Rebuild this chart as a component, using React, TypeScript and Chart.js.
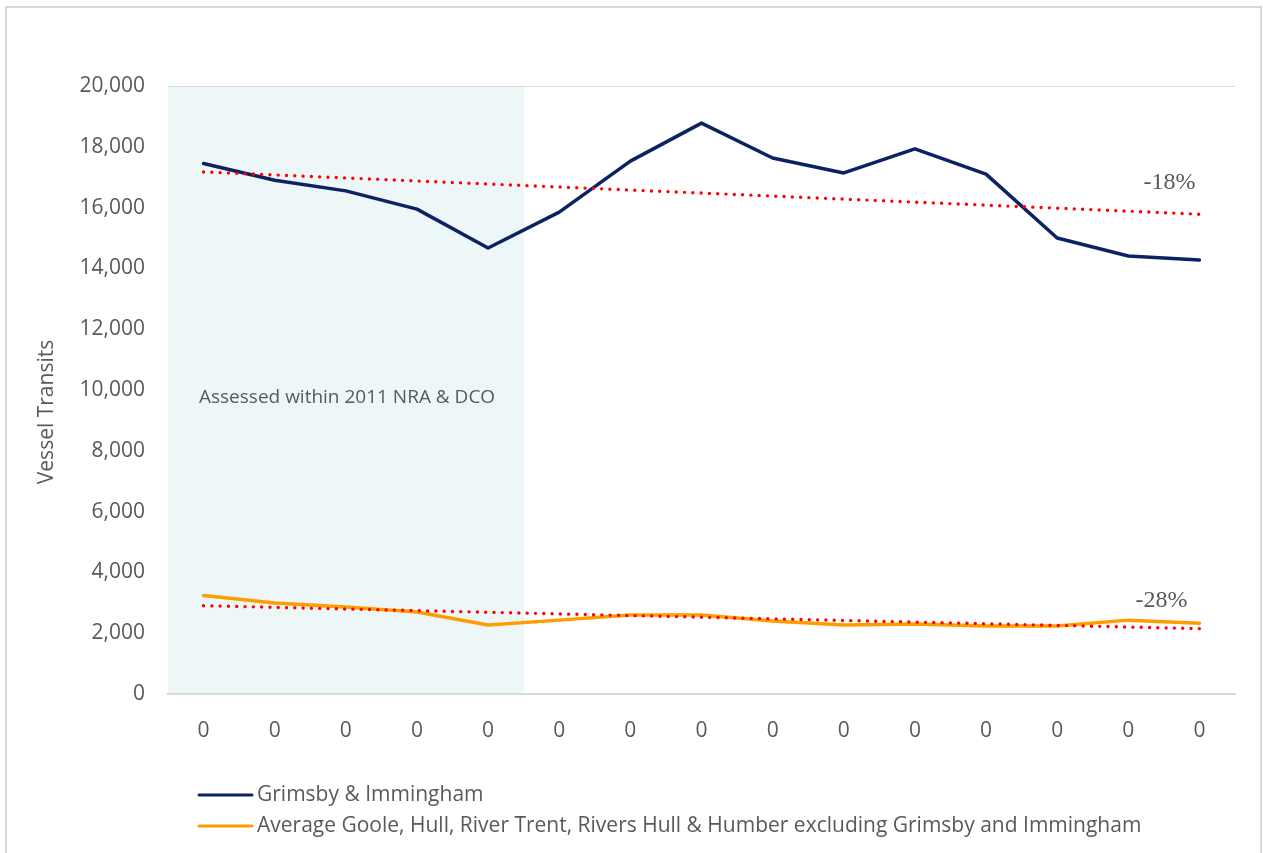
import React, { useEffect, useRef } from "react";
import { Chart, registerables } from "chart.js";

Chart.register(...registerables);

// Category labels along the x axis
const categories = ["0", "0", "0", "0", "0", "0", "0", "0", "0", "0", "0", "0", "0", "0", "0"];

// Annual vessel transits
const grimsbyImmingham = [17450, 16900, 16550, 15950, 14670, 15850, 17530, 18780, 17630, 17140, 17930, 17100, 15000, 14410, 14280];
const averageOtherPorts = [3240, 2990, 2860, 2700, 2270, 2430, 2600, 2600, 2400, 2270, 2300, 2240, 2240, 2430, 2330];

const seriesNames = [
  "Grimsby & Immingham",
  "Average Goole, Hull, River Trent, Rivers Hull & Humber excluding Grimsby and Immingham",
];

// Y axis range
const yMin = 0;
const yMax = 20000;
const yStep = 2000;

const yAxisTitle = "Vessel Transits";
const shadedLabel = "Assessed within 2011 NRA & DCO";
const shadedCategoryCount = 5;

const NAVY = "#0c2263";
const ORANGE = "#ff9d00";
const RED = "#ff0000";
const TEXT = "#595959";
const RULE = "#d9d9d9";
const SHADE = "#eef7f8";
const SANS = "'Open Sans', 'Liberation Sans', sans-serif";
const SERIF = "'Liberation Serif', 'DejaVu Serif', serif";

// Ordinary least-squares trend across category positions
function linearTrend(values: number[]): number[] {
  const n = values.length;
  const xMean = (n - 1) / 2;
  const yMean = values.reduce((a, b) => a + b, 0) / n;
  let num = 0;
  let den = 0;
  values.forEach((v, i) => {
    num += (i - xMean) * (v - yMean);
    den += (i - xMean) * (i - xMean);
  });
  const slope = num / den;
  return values.map((_, i) => yMean + slope * (i - xMean));
}

// Percentage change from first to last value
function changeLabel(values: number[]): string {
  const first = values[0];
  const last = values[values.length - 1];
  return `${Math.round(((last - first) / first) * 100)}%`;
}

const decorPlugin = {
  id: "decor",
  beforeDraw(chart: any) {
    const { ctx, chartArea, scales } = chart;
    const x = scales.x;
    ctx.save();
    // outer frame
    ctx.strokeStyle = RULE;
    ctx.lineWidth = 2;
    ctx.beginPath();
    ctx.moveTo(6, 900);
    ctx.lineTo(6, 7);
    ctx.lineTo(1261, 7);
    ctx.lineTo(1261, 900);
    ctx.stroke();
    // shaded assessment period
    const shadeRight = x.getPixelForValue(shadedCategoryCount - 0.5);
    ctx.fillStyle = SHADE;
    ctx.fillRect(chartArea.left, chartArea.top, shadeRight - chartArea.left, chartArea.bottom - chartArea.top);
    ctx.fillStyle = TEXT;
    ctx.font = `19px ${SANS}`;
    ctx.textAlign = "left";
    ctx.textBaseline = "middle";
    ctx.fillText(shadedLabel, chartArea.left + 31, 398);
    ctx.restore();
  },
  afterDraw(chart: any) {
    const { ctx, scales } = chart;
    const x = scales.x;
    ctx.save();
    // y axis title
    ctx.fillStyle = TEXT;
    ctx.font = `21px ${SANS}`;
    ctx.textAlign = "center";
    ctx.textBaseline = "middle";
    ctx.translate(47, 412);
    ctx.rotate(-Math.PI / 2);
    ctx.fillText(yAxisTitle, 0, 0);
    ctx.setTransform(1, 0, 0, 1, 0, 0);

    // trend change labels
    const lastX = x.getPixelForValue(categories.length - 1);
    ctx.font = `24px ${SERIF}`;
    ctx.textAlign = "center";
    ctx.fillText(changeLabel(grimsbyImmingham), lastX - 30, 183);
    ctx.fillText(changeLabel(averageOtherPorts), lastX - 38, 601);

    // legend
    const rows = [
      { name: seriesNames[0], color: NAVY, y: 795 },
      { name: seriesNames[1], color: ORANGE, y: 826 },
    ];
    ctx.font = `21px ${SANS}`;
    ctx.textAlign = "left";
    rows.forEach((r) => {
      ctx.strokeStyle = r.color;
      ctx.lineWidth = 3;
      ctx.lineCap = "round";
      ctx.beginPath();
      ctx.moveTo(199, r.y);
      ctx.lineTo(252, r.y);
      ctx.stroke();
      ctx.fillStyle = TEXT;
      ctx.fillText(r.name, 257, r.y);
    });
    ctx.restore();
  },
};

export default function App() {
  const canvasRef = useRef<HTMLCanvasElement | null>(null);

  useEffect(() => {
    const canvas = canvasRef.current;
    if (!canvas) return;
    const chart = new Chart(canvas, {
      type: "line",
      data: {
        labels: categories,
        datasets: [
          {
            label: "Grimsby trend",
            data: linearTrend(grimsbyImmingham),
            borderColor: RED,
            borderWidth: 3.4,
            borderDash: [0, 8.3],
            borderCapStyle: "round",
            pointRadius: 0,
            order: 0,
          },
          {
            label: "Other ports trend",
            data: linearTrend(averageOtherPorts),
            borderColor: RED,
            borderWidth: 3.4,
            borderDash: [0, 8.3],
            borderCapStyle: "round",
            pointRadius: 0,
            order: 0,
          },
          {
            label: seriesNames[0],
            data: grimsbyImmingham,
            borderColor: NAVY,
            borderWidth: 3.5,
            borderJoinStyle: "round",
            borderCapStyle: "round",
            pointRadius: 0,
            tension: 0,
            order: 1,
          },
          {
            label: seriesNames[1],
            data: averageOtherPorts,
            borderColor: ORANGE,
            borderWidth: 3.5,
            borderJoinStyle: "round",
            borderCapStyle: "round",
            pointRadius: 0,
            tension: 0,
            order: 1,
          },
        ],
      },
      options: {
        responsive: false,
        animation: false,
        layout: { padding: { left: 10, top: 86, right: 28, bottom: 99 } },
        plugins: {
          legend: { display: false },
          tooltip: { enabled: false },
        },
        scales: {
          x: {
            offset: true,
            afterFit: (scale: any) => {
              scale.height = 60;
            },
            grid: { display: false, drawTicks: false, offset: true },
            border: { display: true, color: RULE, width: 2 },
            ticks: {
              color: TEXT,
              font: { family: SANS, size: 21 },
              padding: 24,
              autoSkip: false,
              maxRotation: 0,
            },
          },
          y: {
            min: yMin,
            max: yMax,
            afterFit: (scale: any) => {
              scale.width = 158;
            },
            grid: {
              drawTicks: false,
              lineWidth: 1,
              color: (c: any) => (c.tick && c.tick.value === yMax ? RULE : "rgba(0,0,0,0)"),
            },
            border: { display: false },
            ticks: {
              stepSize: yStep,
              color: TEXT,
              font: { family: SANS, size: 21 },
              padding: 23,
              callback: (v: any) => Number(v).toLocaleString("en-US"),
            },
          },
        },
      },
      plugins: [decorPlugin],
    });
    return () => chart.destroy();
  }, []);

  return (
    <div style={{ position: "fixed", left: 0, top: 0, width: 1263, height: 853, background: "#ffffff" }}>
      <canvas ref={canvasRef} width={1263} height={853} style={{ display: "block" }} />
    </div>
  );
}
